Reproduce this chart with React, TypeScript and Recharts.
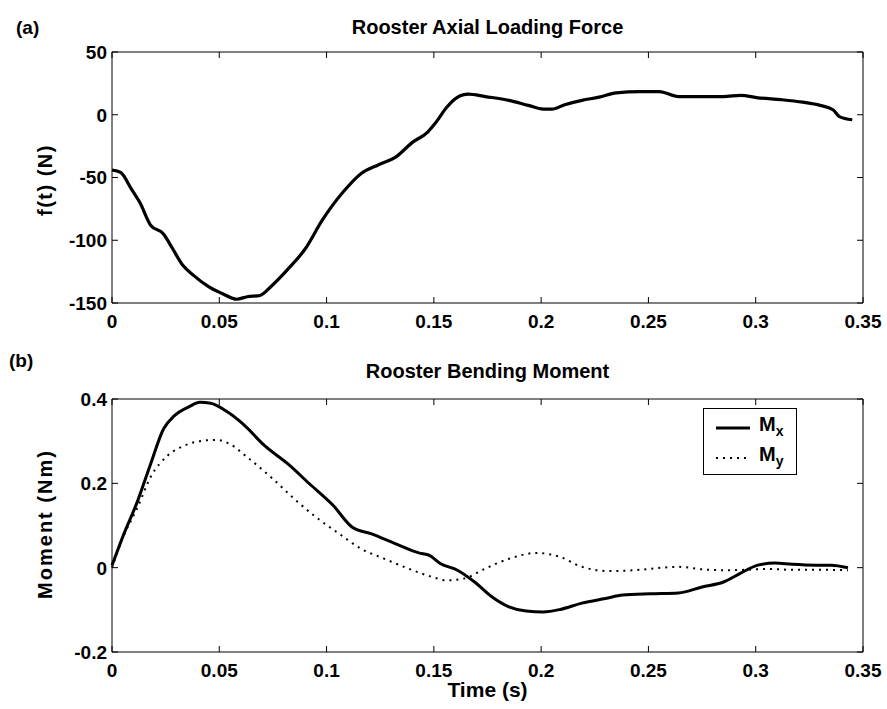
import React from "react";
import { LineChart, Line, XAxis, YAxis } from "recharts";

// (a) axial loading force
const forceTime = [0, 0.004, 0.009, 0.013, 0.018, 0.024, 0.028, 0.033, 0.038, 0.045, 0.052, 0.058, 0.063, 0.069, 0.074, 0.082, 0.09, 0.098, 0.102, 0.108, 0.116, 0.124, 0.132, 0.14, 0.147, 0.151, 0.156, 0.162, 0.166, 0.174, 0.185, 0.194, 0.201, 0.205, 0.211, 0.219, 0.227, 0.235, 0.246, 0.255, 0.264, 0.275, 0.285, 0.293, 0.301, 0.312, 0.322, 0.33, 0.336, 0.339, 0.345];
const forceN = [-44, -46, -59, -70, -88, -95, -106, -120, -128, -137, -143, -147, -145, -144, -137, -123, -107, -84, -74, -61, -47, -40, -34, -22, -14, -6, 6, 15, 16.5, 14.5, 11.5, 7.5, 4.5, 4.5, 8, 11.5, 14, 17.5, 18.5, 18.5, 14.5, 14.5, 14.5, 15.5, 13.5, 12, 10, 7.5, 4, -1.5, -4];

// (b) bending moment
const mxTime = [0, 0.005, 0.012, 0.018, 0.024, 0.029, 0.036, 0.041, 0.046, 0.053, 0.061, 0.071, 0.082, 0.092, 0.103, 0.112, 0.121, 0.132, 0.143, 0.148, 0.153, 0.161, 0.169, 0.177, 0.185, 0.193, 0.201, 0.209, 0.219, 0.23, 0.238, 0.251, 0.264, 0.275, 0.285, 0.293, 0.301, 0.309, 0.317, 0.328, 0.335, 0.343];
const mxValues = [0.005, 0.073, 0.159, 0.246, 0.329, 0.36, 0.382, 0.392, 0.39, 0.372, 0.341, 0.29, 0.246, 0.199, 0.148, 0.096, 0.08, 0.057, 0.035, 0.029, 0.01, -0.006, -0.034, -0.069, -0.093, -0.103, -0.105, -0.099, -0.084, -0.073, -0.065, -0.062, -0.06, -0.046, -0.034, -0.013, 0.006, 0.011, 0.008, 0.006, 0.006, 0];
const myTime = [0, 0.005, 0.012, 0.018, 0.026, 0.034, 0.042, 0.049, 0.055, 0.063, 0.074, 0.085, 0.095, 0.106, 0.116, 0.127, 0.137, 0.148, 0.156, 0.164, 0.174, 0.185, 0.198, 0.209, 0.219, 0.232, 0.246, 0.256, 0.264, 0.275, 0.285, 0.296, 0.306, 0.317, 0.33, 0.343];
const myValues = [0, 0.07, 0.144, 0.215, 0.266, 0.29, 0.301, 0.303, 0.293, 0.262, 0.215, 0.163, 0.12, 0.08, 0.045, 0.021, 0, -0.02, -0.03, -0.026, -0.002, 0.021, 0.035, 0.025, 0.002, -0.008, -0.005, 0, 0.002, -0.004, -0.006, -0.005, -0.003, -0.005, -0.005, -0.006];

const timeTicks = [0, 0.05, 0.1, 0.15, 0.2, 0.25, 0.3, 0.35];
const forceTicks = [-150, -100, -50, 0, 50];
const momentTicks = [-0.2, 0, 0.2, 0.4];

const forceData = forceTime.map((t, i) => ({ t, f: forceN[i] }));
const mxData = mxTime.map((t, i) => ({ t, v: mxValues[i] }));
const myData = myTime.map((t, i) => ({ t, v: myValues[i] }));

const font = "'Liberation Sans', Arial, sans-serif";
const TICK = 6;

const BottomTick = (p: any) => (
  <g>
    <line x1={p.x} y1={p.y} x2={p.x} y2={p.y - TICK} stroke="#000" />
    <text x={p.x} y={p.y + 25} textAnchor="middle" fontFamily={font} fontWeight="bold" fontSize={19} fill="#000">
      {String(p.payload.value)}
    </text>
  </g>
);
const LeftTick = (p: any) => (
  <g>
    <line x1={p.x} y1={p.y} x2={p.x + TICK} y2={p.y} stroke="#000" />
    <text x={p.x - 5} y={p.y} dy="0.36em" textAnchor="end" fontFamily={font} fontWeight="bold" fontSize={19} fill="#000">
      {String(p.payload.value)}
    </text>
  </g>
);
const TopTick = (p: any) => <line x1={p.x} y1={p.y} x2={p.x} y2={p.y + TICK} stroke="#000" />;
const RightTick = (p: any) => <line x1={p.x} y1={p.y} x2={p.x - TICK} y2={p.y} stroke="#000" />;

const label: React.CSSProperties = {
  position: "absolute",
  fontFamily: font,
  fontWeight: "bold",
  color: "#000",
  whiteSpace: "nowrap",
};

const axisCommon = { tickSize: 0, tickMargin: 0, tickLine: false, interval: 0 as const, stroke: "#000" };

export default function App() {
  return (
    <div style={{ position: "absolute", left: 0, top: 0, width: 887, height: 709, background: "#fff" }}>
      <div style={{ ...label, left: 16, top: 17, fontSize: 19 }}>(a)</div>
      <div style={{ ...label, left: 0, width: 975, top: 16, fontSize: 20, textAlign: "center" }}>Rooster Axial Loading Force</div>
      <div style={{ ...label, left: 45, top: 180, fontSize: 20, letterSpacing: 1.5, transform: "translate(-50%, -50%) rotate(-90deg)" }}>f(t) (N)</div>

      <div style={{ position: "absolute", left: 0, top: 0 }}>
        <LineChart width={887} height={340} data={forceData} margin={{ top: 47, right: 14, bottom: 7, left: 62 }}>
          <XAxis dataKey="t" type="number" domain={[0, 0.35]} ticks={timeTicks} height={30} tick={<BottomTick />} {...axisCommon} />
          <XAxis xAxisId="top" dataKey="t" orientation="top" type="number" domain={[0, 0.35]} allowDataOverflow ticks={timeTicks} height={5} tick={<TopTick />} {...axisCommon} />
          <YAxis type="number" domain={[-150, 50]} ticks={forceTicks} width={50} tick={<LeftTick />} {...axisCommon} />
          <YAxis yAxisId="right" orientation="right" type="number" domain={[-150, 50]} allowDataOverflow ticks={forceTicks} width={10} tick={<RightTick />} {...axisCommon} />
          <Line type="monotone" dataKey="f" stroke="#000" strokeWidth={3.2} dot={false} isAnimationActive={false} />
        </LineChart>
      </div>

      <div style={{ ...label, left: 9, top: 350, fontSize: 19 }}>(b)</div>
      <div style={{ ...label, left: 0, width: 975, top: 360, fontSize: 20, textAlign: "center" }}>Rooster Bending Moment</div>
      <div style={{ ...label, left: 45, top: 524, fontSize: 20, letterSpacing: 2, transform: "translate(-50%, -50%) rotate(-90deg)" }}>Moment (Nm)</div>
      <div style={{ ...label, left: 0, width: 975, top: 678, fontSize: 21, textAlign: "center" }}>Time (s)</div>

      <div style={{ position: "absolute", left: 0, top: 340 }}>
        <LineChart width={887} height={369} margin={{ top: 54, right: 14, bottom: 27, left: 62 }}>
          <XAxis dataKey="t" type="number" domain={[0, 0.35]} ticks={timeTicks} height={30} tick={<BottomTick />} {...axisCommon} />
          <XAxis xAxisId="top" dataKey="t" orientation="top" type="number" domain={[0, 0.35]} allowDataOverflow ticks={timeTicks} height={5} tick={<TopTick />} {...axisCommon} />
          <YAxis type="number" domain={[-0.2, 0.4]} ticks={momentTicks} width={50} tick={<LeftTick />} {...axisCommon} />
          <YAxis yAxisId="right" orientation="right" type="number" domain={[-0.2, 0.4]} allowDataOverflow ticks={momentTicks} width={10} tick={<RightTick />} {...axisCommon} />
          <Line data={myData} type="monotone" dataKey="v" name="My" stroke="#000" strokeWidth={2} strokeDasharray="2 5" dot={false} isAnimationActive={false} />
          <Line data={mxData} type="monotone" dataKey="v" name="Mx" stroke="#000" strokeWidth={3} dot={false} isAnimationActive={false} />
        </LineChart>
      </div>

      {/* legend box */}
      <div style={{ position: "absolute", left: 703, top: 408, width: 92, height: 65, border: "1px solid #000", background: "#fff", fontFamily: font, fontWeight: "bold" }}>
        <svg width={50} height={65} style={{ position: "absolute", left: 0, top: 0 }}>
          <line x1={12} y1={19} x2={46} y2={19} stroke="#000" strokeWidth={3} />
          <line x1={12} y1={49} x2={46} y2={49} stroke="#000" strokeWidth={2} strokeDasharray="2 5" />
        </svg>
        <div style={{ position: "absolute", left: 55, top: 4, fontSize: 20 }}>M<sub style={{ fontSize: 14 }}>x</sub></div>
        <div style={{ position: "absolute", left: 55, top: 34, fontSize: 20 }}>M<sub style={{ fontSize: 14 }}>y</sub></div>
      </div>
    </div>
  );
}
